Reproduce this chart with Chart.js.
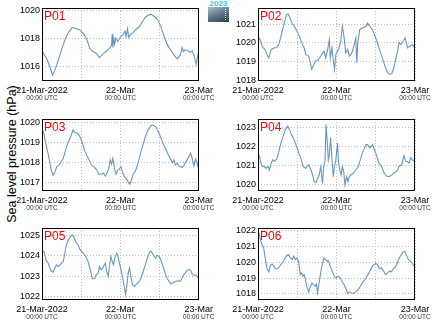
<!DOCTYPE html>
<html>
<head>
<meta charset="utf-8">
<script src="https://cdn.jsdelivr.net/npm/chart.js@4.4.0/dist/chart.umd.min.js"></script>
<style>
  body { margin: 0; background: #fff; }
  #wrap { position: relative; width: 434px; height: 327px; overflow: hidden; font-family: "Liberation Sans", Arial, sans-serif; }
  #wrap canvas { position: absolute; }
  #ylabel { position: absolute; left: 12px; top: 154px; transform: translate(-50%, -50%) rotate(-90deg); font-size: 12.5px; white-space: nowrap; color: #000; }
  #logo { position: absolute; left: 208px; top: 0; width: 21px; height: 24px; }
  #logo .txt { position: absolute; left: 0; top: -1px; width: 21px; text-align: center; font-size: 8px; line-height: 9px; color: #3cc8e0; font-weight: bold; }
  #logo .box { position: absolute; left: 0; top: 7px; width: 21px; height: 15px; background: linear-gradient(160deg, #a9bcc6 0%, #56707f 55%, #2c3f4c 100%); }
  #logo .box::after { content: ""; position: absolute; right: 3px; top: 2px; height: 11px; border-left: 1px dotted #fff; }
</style>
</head>
<body>
<div id="wrap">
  <div id="ylabel">Sea level pressure (hPa)</div>
  <div id="logo"><div class="box"></div><div class="txt">2023</div></div>
</div>
<script>
// hours since 21-Mar-2022 00:00 UTC
const xTickHours = [0, 12, 24, 36, 48];
const xTickText = ['21-Mar-2022', '', '22-Mar', '', '23-Mar'];
const xSubText = '00:00 UTC';

// --- P01 ---
const p01Hours = [0,1.4,2.4,3.2,4,5,6,7,8,9.2,10.5,11.5,12.6,13.6,14.6,15.6,16.6,17.6,18.6,19.6,20.7,21.3,21.5,21.7,21.9,22.2,22.6,23.2,24.2,25,25.4,25.7,26.2,26.5,27,27.7,28.7,29.8,30.8,31.8,33.3,34.4,35.4,36.4,37.4,38.4,39.4,40.4,41.4,42.4,42.9,43.3,43.7,44.7,45.4,46,46.5,47.2,47.8,48];
const p01Values = [1017.05,1016.57,1015.98,1015.38,1015.74,1016.45,1017.17,1017.88,1018.36,1018.76,1018.67,1018.6,1018.36,1018.0,1017.29,1017.05,1016.93,1016.62,1016.86,1017.05,1017.29,1017.48,1018.29,1017.33,1018.1,1017.57,1018.0,1017.76,1018.12,1018.29,1018.52,1018.12,1018.67,1018.05,1018.24,1018.36,1018.6,1018.83,1019.19,1019.55,1019.71,1019.55,1019.31,1018.83,1018.12,1017.52,1017.17,1016.81,1016.52,1016.81,1017.33,1017.05,1017.17,1017.1,1017.0,1017.1,1016.81,1016.14,1016.86,1016.8];
const p01Ticks = [1016, 1018, 1020];

// --- P02 ---
const p02Hours = [0,0.6,1.4,2.2,2.9,3.3,4,5,5.7,6.5,7.3,8,8.7,9.2,9.6,10.4,11.4,12.4,13.4,14.1,14.6,15.5,16,16.4,16.9,17.5,18.2,18.9,19.5,20.2,20.7,21.3,21.8,22.1,22.6,23.1,23.4,23.8,24.3,24.8,25.3,25.8,26.1,26.4,26.8,27.4,27.9,28.4,28.9,29.4,29.9,30.2,30.5,31.1,31.9,33,33.5,34.2,35,36,37,38,38.8,39.6,40.3,40.9,41.5,42.1,42.7,43.1,43.7,44.3,45,45.7,46.4,47.2,48];
const p02Values = [1020.35,1020.18,1019.77,1019.65,1019.3,1019.21,1019.65,1019.74,1019.74,1020.0,1020.53,1021.05,1021.49,1021.53,1021.4,1021.05,1020.79,1020.44,1020.0,1019.74,1019.39,1019.3,1018.95,1018.6,1018.77,1019.04,1019.07,1019.21,1019.39,1019.56,1019.21,1019.65,1020.18,1019.21,1019.74,1018.95,1018.6,1019.39,1019.56,1019.74,1020.09,1020.88,1020.53,1020.18,1019.47,1019.65,1019.3,1019.39,1019.56,1019.91,1020.26,1018.95,1020.0,1020.7,1020.79,1020.88,1021.05,1020.88,1020.7,1020.26,1019.74,1019.21,1018.77,1018.42,1018.33,1018.37,1018.68,1019.12,1019.56,1020.0,1019.91,1020.09,1020.26,1019.74,1019.82,1019.91,1019.74];
const p02Ticks = [1018, 1019, 1020, 1021];

// --- P03 ---
const p03Hours = [0,0.6,1.2,1.9,2.4,2.9,3.4,3.9,4.5,5.2,5.7,6.5,7.3,8,8.7,9.5,10,10.7,11.5,12.3,13.1,13.8,14.6,15.4,16.1,16.8,17.4,18.1,18.8,19.4,20,20.5,20.9,21.3,21.7,22.2,22.7,23.2,23.7,24.2,24.7,25.3,25.9,26.5,26.9,27.3,27.9,28.6,29,29.6,30.1,30.8,31.6,32.3,33,33.6,34.3,35,35.6,36.4,37.1,37.9,38.7,39.4,39.9,40.4,40.9,41.4,41.9,42.4,42.9,43.5,44.2,44.8,45.5,46,46.5,47,47.5,47.8];
const p03Values = [1019.7,1019.42,1018.92,1018.42,1018.0,1017.58,1017.37,1017.5,1017.8,1017.87,1018.0,1018.2,1018.67,1019.0,1019.25,1019.63,1019.5,1019.47,1019.33,1019.0,1018.58,1018.33,1018.08,1017.83,1017.75,1017.63,1017.42,1017.42,1017.47,1017.33,1017.5,1017.75,1018.13,1017.92,1018.2,1017.67,1017.42,1017.62,1017.67,1017.8,1017.5,1017.28,1017.17,1017.0,1016.92,1017.08,1017.42,1017.58,1017.75,1018.08,1018.42,1018.83,1019.25,1019.58,1019.75,1019.87,1019.83,1019.75,1019.53,1019.25,1018.92,1018.67,1018.37,1018.17,1018.0,1018.13,1017.87,1017.97,1017.83,1017.8,1017.75,1017.87,1018.08,1018.25,1018.47,1018.2,1017.83,1018.17,1018.0,1017.75];
const p03Ticks = [1017, 1018, 1019, 1020];

// --- P04 ---
const p04Hours = [0,0.4,0.9,1.4,1.9,2.4,3.1,3.5,4,4.5,5,5.7,6.3,7,7.7,8.3,9.1,9.6,10.2,10.8,11.6,12.4,13.1,13.8,14.6,15.5,16.2,16.7,17.2,17.7,18.2,18.7,19.2,19.7,20.1,20.5,20.8,21.2,21.5,21.8,22.2,22.6,23,23.4,23.8,24.3,24.6,25,25.4,25.8,26.2,26.6,27.1,27.5,27.9,28.4,29.1,29.9,30.7,31.4,32.1,33,33.5,34.2,35,35.6,36.2,37,37.8,38.5,39.3,40.1,40.9,41.6,42.3,43.1,43.9,44.6,45.2,45.7,46.2,46.7,47.2,48];
const p04Values = [1021.61,1021.51,1021.12,1020.95,1020.95,1020.86,1020.95,1020.77,1021.12,1021.3,1021.21,1021.33,1021.68,1022.18,1022.53,1022.84,1023.05,1022.88,1022.61,1022.44,1022.09,1021.68,1021.39,1020.95,1020.86,1021.04,1020.77,1020.51,1020.16,1020.11,1020.33,1020.51,1020.95,1020.07,1020.95,1021.3,1023.14,1022.18,1021.3,1021.56,1022.44,1021.39,1020.42,1020.95,1021.3,1022.18,1021.21,1020.77,1020.51,1020.95,1020.68,1019.98,1020.42,1020.16,1020.42,1020.51,1020.6,1020.77,1020.95,1021.39,1021.74,1022.09,1022.09,1021.91,1022.09,1021.82,1021.56,1021.12,1020.95,1020.63,1020.46,1020.42,1020.51,1020.63,1020.68,1020.95,1021.04,1021.51,1021.21,1021.21,1021.12,1021.42,1021.3,1021.21];
const p04Ticks = [1020, 1021, 1022, 1023];

// --- P05 ---
const p05Hours = [0,0.6,1.2,1.9,2.4,2.9,3.4,3.9,4.5,5,5.5,6,6.5,7,7.5,8.1,8.7,9.3,9.7,10.3,11,11.7,12.6,13.4,14.1,14.8,15.4,16.1,16.6,17.2,17.6,18.1,18.6,19.1,19.4,19.8,20.3,20.7,21.1,21.5,21.9,22.3,22.9,23.3,23.7,24.2,24.7,25.2,25.6,26,26.4,26.8,27.2,27.7,28.3,28.8,29.3,29.8,30.3,30.8,31.3,31.8,32.3,32.8,33.3,33.8,34.3,34.8,35.3,35.9,36.4,36.9,37.4,37.9,38.4,38.9,39.5,40.1,40.7,41.4,42.1,42.7,43.4,44.2,45,45.6,46,46.6,47.2,47.8];
const p05Values = [1024.24,1024.21,1023.8,1023.64,1023.4,1023.24,1023.2,1023.4,1023.56,1023.48,1023.56,1023.64,1023.72,1024.13,1024.54,1024.78,1024.94,1025.02,1024.94,1024.7,1024.54,1024.29,1024.13,1023.97,1023.72,1023.32,1022.88,1022.88,1023.07,1023.15,1023.48,1023.32,1023.4,1023.56,1023.64,1023.24,1022.99,1023.56,1023.97,1023.72,1023.56,1023.89,1024.13,1023.97,1023.64,1023.32,1022.91,1022.5,1022.1,1022.59,1023.15,1023.4,1022.99,1022.59,1022.5,1022.59,1022.67,1022.75,1022.91,1023.15,1023.4,1023.64,1023.92,1024.13,1024.24,1024.13,1023.97,1023.89,1024.02,1023.97,1023.8,1023.56,1023.32,1023.07,1022.88,1022.75,1022.63,1022.67,1022.75,1022.78,1022.75,1022.83,1023.07,1023.24,1023.35,1023.27,1023.11,1023.04,1023.07,1022.91];
const p05Ticks = [1022, 1023, 1024, 1025];

// --- P06 ---
const p06Hours = [0,0.3,0.7,1.2,1.7,2.2,2.7,3.3,3.8,4.3,4.8,5.3,5.8,6.3,7,7.8,8.6,9.3,9.9,10.5,10.9,11.4,11.9,12.4,12.9,13.3,13.7,14.1,14.5,14.9,15.5,16,16.5,17,17.5,17.9,18.2,18.6,19,19.5,19.8,20.2,20.6,21.1,21.5,21.9,22.3,22.7,23.1,23.6,24.1,24.6,25.1,25.7,26.3,27,27.4,28,28.6,29.2,29.8,30.4,31,31.6,32.2,32.8,33.5,34.1,34.7,35.3,35.9,36.5,37.1,37.7,38.3,39,39.6,40.2,40.8,41.4,42,42.6,43.2,43.8,44.4,44.9,45.5,46,46.5,47.1,47.7];
const p06Values = [1021.75,1021.85,1021.43,1021.12,1020.91,1020.27,1019.64,1019.39,1019.81,1019.89,1019.75,1019.58,1019.6,1019.64,1019.85,1020.06,1020.38,1020.48,1020.27,1020.17,1020.38,1020.17,1020.27,1020.06,1019.22,1019.33,1019.12,1019.22,1018.91,1018.48,1018.13,1018.48,1018.69,1018.59,1018.48,1018.63,1018.06,1018.59,1019.12,1019.75,1019.96,1020.27,1020.17,1020.06,1020.11,1019.85,1019.64,1019.43,1019.22,1019.01,1019.05,1019.12,1019.01,1018.8,1018.59,1018.27,1018.02,1018.13,1018.06,1018.04,1018.13,1018.21,1018.38,1018.59,1018.8,1018.91,1019.18,1019.39,1019.64,1019.81,1019.94,1019.85,1019.6,1019.64,1019.47,1019.22,1019.33,1019.43,1019.39,1019.6,1019.68,1019.96,1020.27,1020.48,1020.65,1020.69,1020.38,1020.17,1020.06,1019.96,1019.75];
const p06Ticks = [1018, 1019, 1020, 1021, 1022];

// layout: plot box in page pixels and the y range shown
const panels = [
    { name: 'P01', hours: p01Hours, values: p01Values, ticks: p01Ticks, yMin: 1014.95, yMax: 1020.15, box: [42, 8, 200, 81], canvas: [0, 0, 217, 110] },
    { name: 'P02', hours: p02Hours, values: p02Values, ticks: p02Ticks, yMin: 1017.98, yMax: 1021.85, box: [258, 8, 415, 81], canvas: [217, 0, 217, 110] },
    { name: 'P03', hours: p03Hours, values: p03Values, ticks: p03Ticks, yMin: 1016.58, yMax: 1020.17, box: [42, 119, 200, 191], canvas: [0, 110, 217, 110] },
    { name: 'P04', hours: p04Hours, values: p04Values, ticks: p04Ticks, yMin: 1019.68, yMax: 1023.42, box: [258, 119, 415, 191], canvas: [217, 110, 217, 110] },
    { name: 'P05', hours: p05Hours, values: p05Values, ticks: p05Ticks, yMin: 1021.84, yMax: 1025.36, box: [42, 228, 200, 300], canvas: [0, 219, 217, 108] },
    { name: 'P06', hours: p06Hours, values: p06Values, ticks: p06Ticks, yMin: 1017.62, yMax: 1022.15, box: [258, 228, 415, 300], canvas: [217, 219, 217, 108] }
];

const FONT = '"Liberation Sans", Arial, sans-serif';

// frame, panel name and the small "00:00 UTC" line under each date
const panelDecor = {
    id: 'panelDecor',
    afterDraw(chart, args, opts) {
        const { ctx, chartArea: a } = chart;
        const x = chart.scales.x;
        ctx.save();
        ctx.strokeStyle = '#000';
        ctx.lineWidth = 1;
        ctx.strokeRect(Math.round(a.left) + 0.5, Math.round(a.top) + 0.5,
            Math.round(a.right - a.left) - 1, Math.round(a.bottom - a.top) - 1);

        ctx.fillStyle = '#ff0000';
        ctx.font = '12px ' + FONT;
        ctx.textBaseline = 'top';
        ctx.textAlign = 'left';
        ctx.fillText(opts.name, a.left + 2, a.top + 3);

        ctx.fillStyle = '#333';
        ctx.font = '6.5px ' + FONT;
        ctx.textAlign = 'center';
        ctx.textBaseline = 'middle';
        xTickHours.forEach((h, i) => {
            if (xTickText[i]) ctx.fillText(xSubText, x.getPixelForValue(h), a.bottom + 17.5);
        });
        ctx.restore();
    }
};

const wrap = document.getElementById('wrap');

panels.forEach(p => {
    const [cl, ct, cw, ch] = p.canvas;
    const [bl, bt, br, bb] = p.box;
    const cv = document.createElement('canvas');
    cv.width = cw;
    cv.height = ch;
    cv.style.left = cl + 'px';
    cv.style.top = ct + 'px';
    cv.style.width = cw + 'px';
    cv.style.height = ch + 'px';
    wrap.appendChild(cv);

    const yAxisW = bl - cl;
    const xAxisH = ct + ch - bb;

    new Chart(cv, {
        type: 'line',
        data: {
            datasets: [{
                data: p.hours.map((h, i) => ({ x: h, y: p.values[i] })),
                borderColor: '#6797c6',
                borderWidth: 1.1,
                pointRadius: 0,
                tension: 0,
                fill: false
            }]
        },
        options: {
            responsive: false,
            animation: false,
            devicePixelRatio: 1,
            layout: { padding: { top: bt - ct, right: cl + cw - br, left: 0, bottom: 0 } },
            plugins: {
                legend: { display: false },
                tooltip: { enabled: false },
                panelDecor: { name: p.name }
            },
            scales: {
                x: {
                    type: 'linear',
                    min: 0,
                    max: 48,
                    afterBuildTicks: s => { s.ticks = xTickHours.map(v => ({ value: v })); },
                    afterFit: s => { s.height = xAxisH; },
                    grid: { color: '#bcbcbc', lineWidth: 1, drawTicks: false },
                    border: { display: false, dash: [1, 2] },
                    ticks: {
                        autoSkip: false,
                        maxRotation: 0,
                        padding: 4,
                        color: '#000',
                        font: { family: FONT, size: 9 },
                        callback: v => xTickText[xTickHours.indexOf(v)] || ''
                    }
                },
                y: {
                    min: p.yMin,
                    max: p.yMax,
                    afterBuildTicks: s => { s.ticks = p.ticks.map(v => ({ value: v })); },
                    afterFit: s => { s.width = yAxisW; },
                    grid: { color: '#bcbcbc', lineWidth: 1, drawTicks: false },
                    border: { display: false, dash: [1, 2] },
                    ticks: {
                        padding: 2,
                        color: '#000',
                        font: { family: FONT, size: 9 },
                        callback: v => String(v)
                    }
                }
            }
        },
        plugins: [panelDecor]
    });
});
</script>
</body>
</html>
